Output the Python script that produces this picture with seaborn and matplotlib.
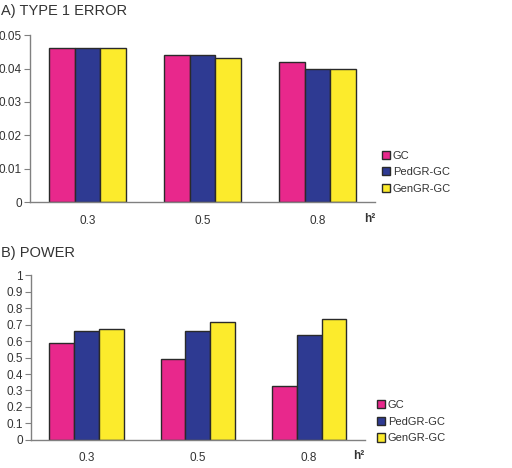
import pandas as pd
import seaborn as sns
import matplotlib.pyplot as plt

h2 = ["0.3", "0.5", "0.8"]
methods = ["GC", "PedGR-GC", "GenGR-GC"]
type1 = {"GC": [0.046, 0.044, 0.042],
         "PedGR-GC": [0.046, 0.044, 0.040],
         "GenGR-GC": [0.046, 0.043, 0.040]}
power = {"GC": [0.586, 0.493, 0.327],
         "PedGR-GC": [0.663, 0.663, 0.638],
         "GenGR-GC": [0.673, 0.715, 0.737]}
colors = ["#E8288C", "#2E3A92", "#FCEB2C"]

sns.set_style("white")
plt.rcParams["font.family"] = ["Liberation Sans", "DejaVu Sans"]


def long_table(d):
    rows = []
    for m in methods:
        for h, v in zip(h2, d[m]):
            rows.append({"h2": h, "method": m, "value": v})
    return pd.DataFrame(rows)


fig = plt.figure(figsize=(5.12, 4.68), dpi=100)
ax1 = fig.add_axes([0.0586, 0.568, 0.674, 0.357])
ax2 = fig.add_axes([0.0605, 0.060, 0.652, 0.352])


def draw(ax, df, ymax, yticks, fmt, leg_pos):
    sns.barplot(data=df, x="h2", y="value", hue="method", hue_order=methods,
                palette=colors, width=0.67, edgecolor="#2a2a2a", linewidth=1.0,
                saturation=1, ax=ax)
    ax.set_xlim(-0.5, 2.5)
    ax.set_ylim(0, ymax)
    ax.set_yticks(yticks)
    ax.set_yticklabels([fmt(t) for t in yticks])
    ax.set_xlabel("")
    ax.set_ylabel("")
    for s in ["top", "right"]:
        ax.spines[s].set_visible(False)
    for s in ["left", "bottom"]:
        ax.spines[s].set_color("#808080")
        ax.spines[s].set_linewidth(1.0)
    ax.set_xticks([-0.5, 0.5, 1.5, 2.5], minor=True)
    ax.tick_params(axis="x", which="major", length=0, labelsize=8.5, pad=9, colors="#333333")
    ax.tick_params(axis="x", which="minor", length=4, direction="out", color="#808080")
    ax.tick_params(axis="y", length=4, direction="out", labelsize=8.5, pad=2,
                   color="#808080", labelcolor="#333333")
    ax.tick_params(left=True, bottom=True)
    ax.text(1.0, -0.10, "h²", transform=ax.transAxes, fontsize=8.5, fontweight="bold",
            ha="right", va="center", color="#333333")
    handles, labels = ax.get_legend_handles_labels()
    ax.legend(handles, labels, loc="center left", bbox_to_anchor=leg_pos,
              bbox_transform=fig.transFigure, frameon=False, fontsize=8,
              handlelength=0.75, handleheight=0.75, handletextpad=0.25,
              labelspacing=0.6, labelcolor="#333333", borderaxespad=0)


draw(ax1, long_table(type1), 0.05, [0, 0.01, 0.02, 0.03, 0.04, 0.05],
     lambda t: "0" if t == 0 else f"{t:.2f}", (0.737, 0.632))
draw(ax2, long_table(power), 1.0, [i / 10 for i in range(11)],
     lambda t: "0" if t == 0 else ("1" if t == 1 else f"{t:.1f}"), (0.727, 0.099))

fig.text(0.002, 0.976, "A) TYPE 1 ERROR", fontsize=10.5, va="center", color="#333333")
fig.text(0.002, 0.459, "B) POWER", fontsize=10.5, va="center", color="#333333")

fig.savefig("out.png", dpi=100)
